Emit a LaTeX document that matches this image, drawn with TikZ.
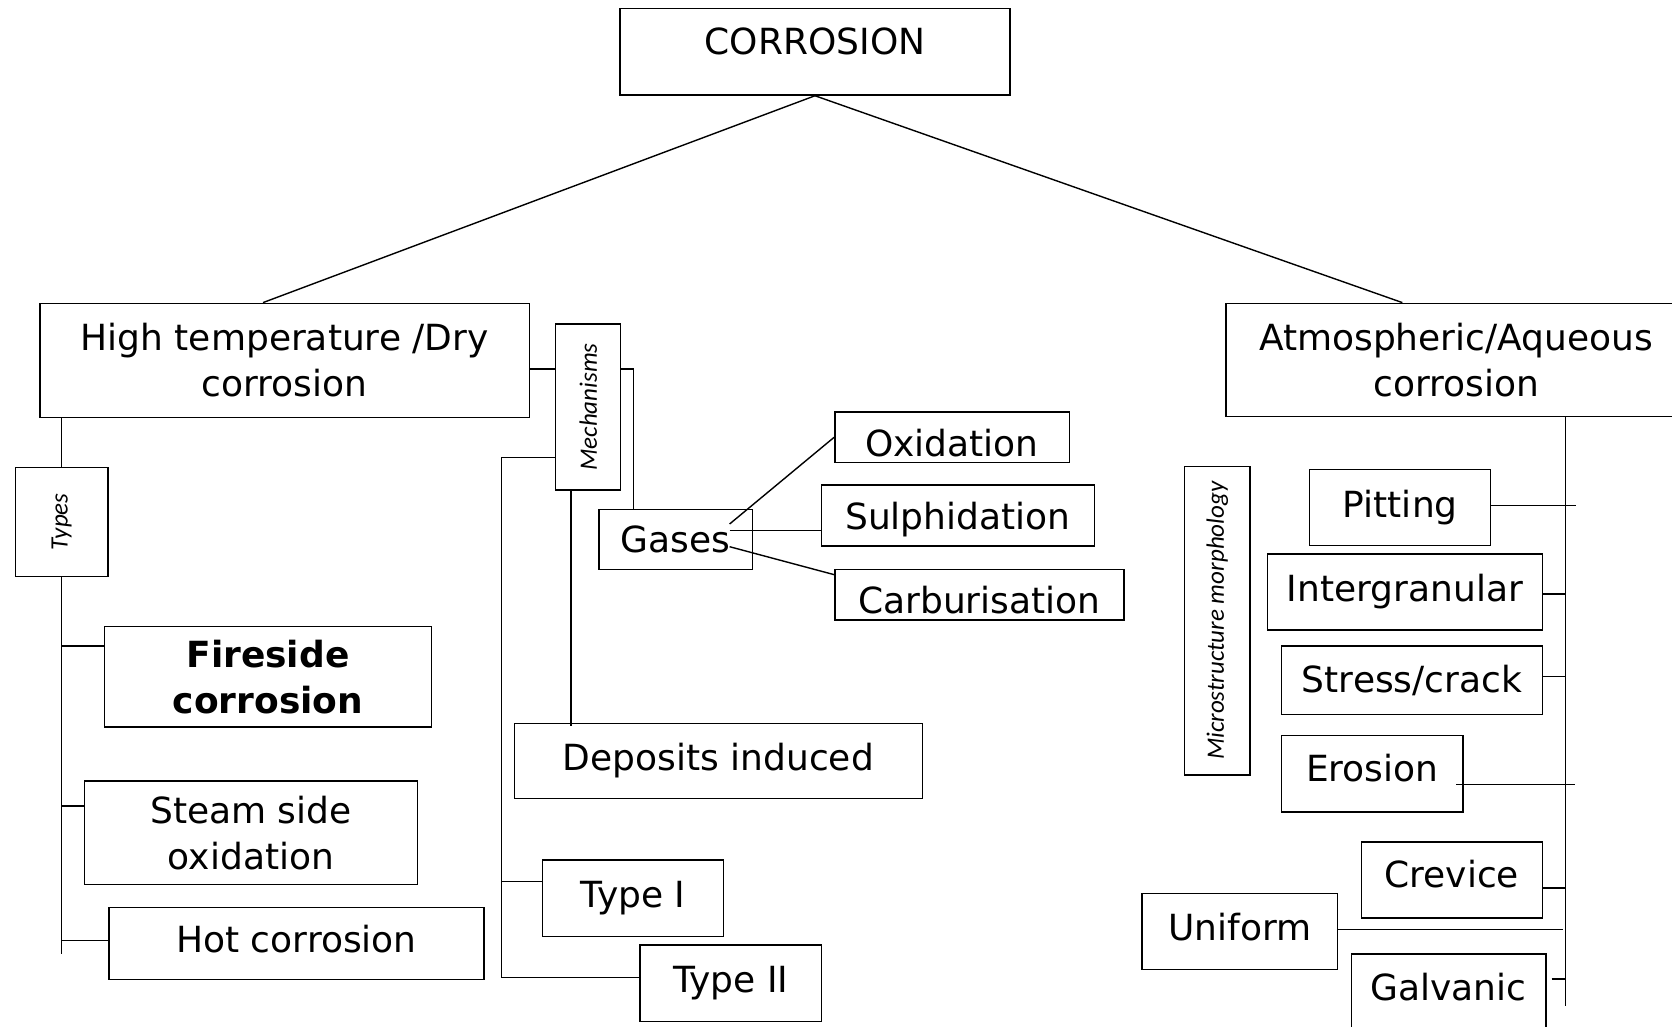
\documentclass[tikz,border=0pt]{standalone}
\usepackage{fontspec}
\setmainfont{DejaVu Sans}
\newfontfamily\carlito{Carlito}
\usepackage{tikz}
\tikzstyle{box} = [rectangle, draw, line width=1.4pt, inner sep=0pt, align=center, font=\fontsize{36}{46}\selectfont]
\tikzstyle{tag} = [rectangle, draw, line width=1.4pt, inner sep=0pt, rotate=90, font=\carlito\itshape\fontsize{25}{30}\selectfont]
\tikzstyle{link} = [line width=1.4pt]

\begin{document}
\begin{tikzpicture}[x=1pt, y=-1pt]
    \useasboundingbox (0,0) rectangle (1672,1027);

    \node[box, minimum width=390, minimum height=86.7, text depth=22pt] (corr) at (815,51.7) {CORROSION};
    \node[box, minimum width=489.6, minimum height=114] (dry) at (284.6,360.3) {High temperature /Dry\\corrosion};
    \node[box, minimum width=460, minimum height=113.4] (wet) at (1456,360) {Atmospheric/Aqueous\\corrosion};

    \node[tag, minimum width=109, minimum height=92.7] (types) at (61.7,521.8) {Types};
    \node[box, minimum width=326.8, minimum height=100.3, font=\fontsize{36}{46}\selectfont\bfseries] (fire) at (268,676.8) {Fireside\\corrosion};
    \node[box, minimum width=332.7, minimum height=103.7] (steam) at (251,832.8) {Steam side\\oxidation};
    \node[box, minimum width=375, minimum height=72, text depth=8pt] (hot) at (296.5,943.3) {Hot corrosion};

    \node[tag, minimum width=166, minimum height=65] (mech) at (588.2,407) {Mechanisms};
    \node[box, minimum width=153.2, minimum height=60] (gases) at (675.7,539.3) {Gases};
    \node[box, minimum width=234.4, minimum height=50.7, text height=39pt] (oxi) at (952,437.3) {Oxidation};
    \node[box, minimum width=273.2, minimum height=61, text height=35pt] (sulph) at (957.9,515.5) {Sulphidation};
    \node[box, minimum width=289.2, minimum height=50.7, text height=39pt] (carb) at (979.4,594.7) {Carburisation};
    \node[box, minimum width=408, minimum height=75] (depo) at (718.4,760.8) {Deposits induced};
    \node[box, minimum width=181, minimum height=76.7] (typei) at (633,898.3) {Type I};
    \node[box, minimum width=181.7, minimum height=76.7] (typeii) at (730.9,983.3) {Type II};
    \coordinate (mfoot) at (501.7,977.7);

    \node[tag, minimum width=308.3, minimum height=65.7] (micro) at (1217.2,620.8) {Microstructure morphology};
    \node[box, minimum width=181, minimum height=76] (pit) at (1400.2,507.3) {Pitting};
    \node[box, minimum width=275.4, minimum height=76] (inter) at (1405,592) {Intergranular};
    \node[box, minimum width=261, minimum height=68.7] (stress) at (1412,680.3) {Stress/crack};
    \node[box, minimum width=181.5, minimum height=76.3, text depth=12pt] (ero) at (1372.2,773.8) {Erosion};
    \node[box, minimum width=181.2, minimum height=76, text depth=12pt] (crev) at (1451.8,880) {Crevice};
    \node[box, minimum width=195.7, minimum height=76.4, text depth=10pt] (uni) at (1239.9,931.5) {Uniform};
    \node[box, minimum width=194.6, minimum height=77, text depth=12pt] (galv) at (1448.5,992.5) {Galvanic};

    \draw[link] (corr.south) -- ([xshift=-21.6pt]dry.north);
    \draw[link] (corr.south) -- ([xshift=-53.7pt]wet.north);

    \draw[link] (dry.south -| types.center) -- (types.east);
    \draw[link] (types.west) -- +(0,377);
    \draw[link] ([yshift=30.8pt]fire.west) -- +(-42.9,0);
    \draw[link] ([yshift=26.8pt]steam.west) -- +(-22.9,0);
    \draw[link] ([yshift=3pt]hot.west) -- +(-47.3,0);

    \draw[link] ([yshift=-8.7pt]dry.east) -- +(26.3,0);
    \draw[link] ([yshift=38pt]mech.south) -| ([xshift=-42.2pt]gases.north);
    \draw[link] ([yshift=-50.3pt]mech.north) -| (mfoot) -- (mfoot -| typeii.west);
    \draw[link] ([yshift=16.6pt]typei.west) -- +(-40.8,0);
    \draw[link] ([xshift=-17.2pt]mech.west) -- +(0,235);
    \draw[link] ([shift={(53.9,-15.3)}]gases.center) -- (oxi.west);
    \draw[link] ([shift={(53.9,-8.6)}]gases.center) -- ([yshift=-15.2pt]sulph.west);
    \draw[link] ([shift={(53.9,7.4)}]gases.center) -- ([yshift=-6pt]carb.north west);

    \draw[link] ([xshift=109.7pt]wet.south) -- +(0,588.3);
    \draw[link] ([yshift=1.6pt]pit.east) -- +(84.3,0);
    \draw[link] ([yshift=-2pt]inter.east) -- +(23,0);
    \draw[link] ([yshift=3.6pt]stress.east) -- +(23.2,0);
    \draw[link] ([shift={(-7.3,10.5)}]ero.east) -- +(119,0);
    \draw[link] ([yshift=-8pt]crev.east) -- +(23.3,0);
    \draw[link] ([yshift=2.2pt]uni.east) -- +(225,0);
    \draw[link] ([shift={(5.2,-13.5)}]galv.east) -- +(14.5,0);
\end{tikzpicture}
\end{document}
